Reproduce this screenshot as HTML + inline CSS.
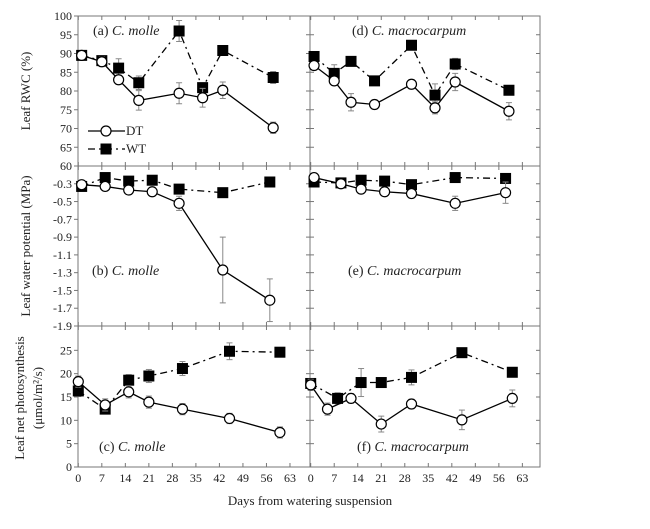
<!DOCTYPE html>
<html><head><meta charset="utf-8"><style>
html,body{margin:0;padding:0;background:#fff;}
svg{display:block;font-family:"Liberation Serif",serif;}
</style></head><body>
<svg id="chart" width="650" height="529" viewBox="0 0 650 529" xmlns="http://www.w3.org/2000/svg"></svg>
<script>
// ---- data ----
const rwcMolleDays=[1,7,12,18,30,37,43,58];
const rwcMolleDT=[89.5,87.8,83,77.5,79.4,78.2,80.2,70.2];
const rwcMolleWT=[89.5,88.1,86.1,82.2,96,80.9,90.8,83.6];
const rwcMolleDTerr=[1,1.3,1.2,2.6,2.8,2.5,2.2,1.5];
const rwcMolleWTerr=[0.8,1,2.5,1.8,2.8,1.2,0.8,1.6];
const rwcMacroDays=[1,7,12,19,30,37,43,59];
const rwcMacroDT=[86.8,82.7,77,76.4,81.8,75.5,82.4,74.6];
const rwcMacroWT=[89.2,84.7,87.9,82.7,92.2,78.9,87.2,80.2];
const rwcMacroDTerr=[0.8,1,2.3,1.2,1.2,1.6,2.3,2.3];
const rwcMacroWTerr=[0.6,2.3,0.5,1.2,0.5,3,1.5,0.7];
const lwpMolleDays=[1,8,15,22,30,43,57];
const lwpMolleDT=[-0.31,-0.33,-0.37,-0.39,-0.52,-1.27,-1.61];
const lwpMolleWT=[-0.33,-0.23,-0.27,-0.26,-0.36,-0.40,-0.28];
const lwpMolleDTerr=[0.02,0.03,0.05,0.03,0.08,0.37,0.24];
const lwpMacroDays=[1,9,15,22,30,43,58];
const lwpMacroDT=[-0.23,-0.30,-0.36,-0.39,-0.41,-0.52,-0.40];
const lwpMacroWT=[-0.28,-0.29,-0.26,-0.27,-0.31,-0.23,-0.24];
const lwpMacroDTerr=[0.02,0.03,0.03,0.03,0.05,0.08,0.12];
const psnMolleDTDays=[0,8,15,21,31,45,60];
const psnMolleDT=[18.3,13.3,16.1,13.9,12.4,10.4,7.4];
const psnMolleWTDays=[0,8,15,21,31,45,60];
const psnMolleWT=[16.3,12.4,18.6,19.5,21.1,24.8,24.6];
const psnMolleDTerr=[1.2,1.3,1.3,1.3,1.2,1.1,1.2];
const psnMolleWTerr=[1.2,1,1.2,1.4,1.5,1.8,0.4];
const psnMacroDTDays=[0,5,12,21,30,45,60];
const psnMacroDT=[17.6,12.4,14.7,9.2,13.5,10.1,14.7];
const psnMacroWTDays=[0,8,15,21,30,45,60];
const psnMacroWT=[17.9,14.7,18.1,18.1,19.2,24.5,20.3];
const psnMacroDTerr=[1.2,1.3,1,1.7,1,2.1,1.8];
const psnMacroWTerr=[1,1.2,3,0.4,1.6,0.5,1];
const xTickLabels=[0,7,14,21,28,35,42,49,56,63];
const rwcTicks=[60,65,70,75,80,85,90,95,100];
const lwpTicks=[-0.3,-0.5,-0.7,-0.9,-1.1,-1.3,-1.5,-1.7,-1.9];
const psnTicks=[0,5,10,15,20,25];

const NS="http://www.w3.org/2000/svg";
const svg=document.getElementById('chart');
function mk(tag,attrs,parent){const e=document.createElementNS(NS,tag);for(const k in attrs)e.setAttribute(k,attrs[k]);(parent||svg).appendChild(e);return e;}

const L0=78.3, R0=310.7, PX=3.36;
const xLeft=d=>L0+d*PX, xRight=d=>R0+d*PX;
const yRwc=v=>16+(100-v)*(150/40);
const yLwp=v=>166+(-0.1-v)*(160/1.8);
const yPsn=v=>467-v*(140/30);

const frame=mk('g',{});


[[78,16,232,150],[310,16,230,150],[78,166,232,160],[310,166,230,160],[78,326,232,141],[310,326,230,141]].forEach(r=>{
 mk('rect',{x:r[0],y:r[1],width:r[2],height:r[3],fill:'none',stroke:'#777','stroke-width':1},frame);
});
const xt=mk('g',{});


[xLeft,xRight].forEach(fx=>{
 xTickLabels.forEach(t=>{
  const x=fx(t);
  [16,166,326].forEach(b=>{mk('line',{x1:x,x2:x,y1:b,y2:b+4,stroke:'#777'},xt);});
  [166,326,467].forEach(b=>{mk('line',{x1:x,x2:x,y1:b,y2:b-4,stroke:'#777'},xt);});
  const tx=mk('text',{x:x,y:482,'font-size':12,'text-anchor':'middle',fill:'#222'},xt);
  tx.textContent=t;
  
  
 });
});
function yTicks(ticks,fy,fmt){
 const g=mk('g',{});
 
 
 ticks.forEach(t=>{
  const y=fy(t);
  mk('line',{x1:74,x2:78,y1:y,y2:y,stroke:'#777'},g);
  mk('line',{x1:306,x2:314,y1:y,y2:y,stroke:'#777'},g);
  mk('line',{x1:536,x2:540,y1:y,y2:y,stroke:'#777'},g);
  const tx=mk('text',{x:72,y:y+4,'font-size':12,'text-anchor':'end',fill:'#222'},g);
  tx.textContent=fmt(t);
  
  
 });
}
yTicks(rwcTicks,yRwc,t=>t);
yTicks(lwpTicks,yLwp,t=>t.toFixed(1));
yTicks(psnTicks,yPsn,t=>t);

function series(days,vals,errs,fx,fy,filled,name){
 const g=mk('g',{});
 
 
 const pts=days.map((d,i)=>[fx(d),fy(vals[i])]);
 const pl=mk('polyline',{points:pts.map(p=>p.join(',')).join(' '),fill:'none',stroke:'#000','stroke-width':1.3,'stroke-dasharray':filled?'7,4,2,4':'none'},g);
 
 
 pts.forEach((p,i)=>{
  if(errs){const e=errs[i];const y1=fy(vals[i]+e),y2=fy(vals[i]-e);
   mk('line',{x1:p[0],x2:p[0],y1:y1,y2:y2,stroke:'#888'},g);
   mk('line',{x1:p[0]-3,x2:p[0]+3,y1:y1,y2:y1,stroke:'#888'},g);
   mk('line',{x1:p[0]-3,x2:p[0]+3,y1:y2,y2:y2,stroke:'#888'},g);}
  let m;
  if(filled)m=mk('rect',{x:p[0]-5.5,y:p[1]-5.5,width:11,height:11,fill:'#000'},g);
  else m=mk('circle',{cx:p[0],cy:p[1],r:5,fill:'#fff',stroke:'#000','stroke-width':1.2},g);
  
  
 });
}
series(rwcMolleDays,rwcMolleWT,rwcMolleWTerr,xLeft,yRwc,true,'rwc-molle-wt');
series(rwcMolleDays,rwcMolleDT,rwcMolleDTerr,xLeft,yRwc,false,'rwc-molle-dt');
series(rwcMacroDays,rwcMacroWT,rwcMacroWTerr,xRight,yRwc,true,'rwc-macro-wt');
series(rwcMacroDays,rwcMacroDT,rwcMacroDTerr,xRight,yRwc,false,'rwc-macro-dt');
series(lwpMolleDays,lwpMolleWT,null,xLeft,yLwp,true,'lwp-molle-wt');
series(lwpMolleDays,lwpMolleDT,lwpMolleDTerr,xLeft,yLwp,false,'lwp-molle-dt');
series(lwpMacroDays,lwpMacroWT,null,xRight,yLwp,true,'lwp-macro-wt');
series(lwpMacroDays,lwpMacroDT,lwpMacroDTerr,xRight,yLwp,false,'lwp-macro-dt');
series(psnMolleWTDays,psnMolleWT,psnMolleWTerr,xLeft,yPsn,true,'psn-molle-wt');
series(psnMolleDTDays,psnMolleDT,psnMolleDTerr,xLeft,yPsn,false,'psn-molle-dt');
series(psnMacroWTDays,psnMacroWT,psnMacroWTerr,xRight,yPsn,true,'psn-macro-wt');
series(psnMacroDTDays,psnMacroDT,psnMacroDTerr,xRight,yPsn,false,'psn-macro-dt');
</script>
<svg style="position:absolute;left:0;top:0" width="650" height="529">
 <g font-family="Liberation Serif, serif" font-size="14" fill="#222">
  <text x="93" y="35">(a) <tspan font-style="italic">C. molle</tspan></text>
  <text x="352" y="35">(d) <tspan font-style="italic">C. macrocarpum</tspan></text>
  <text x="92" y="275">(b) <tspan font-style="italic">C. molle</tspan></text>
  <text x="348" y="275">(e) <tspan font-style="italic">C. macrocarpum</tspan></text>
  <text x="99" y="451">(c) <tspan font-style="italic">C. molle</tspan></text>
  <text x="357" y="451">(f) <tspan font-style="italic">C. macrocarpum</tspan></text>
 </g>
 <g font-family="Liberation Serif, serif" font-size="13" fill="#222">
  <line x1="88" x2="125" y1="131" y2="131" stroke="#000" stroke-width="1.3"/>
  <circle cx="106" cy="131" r="5" fill="#fff" stroke="#000" stroke-width="1.2"/>
  <text x="126" y="135">DT</text>
  <line x1="88" x2="125" y1="149" y2="149" stroke="#000" stroke-width="1.3" stroke-dasharray="7,4,2,4"/>
  <rect x="100.5" y="143.5" width="11" height="11" fill="#000"/>
  <text x="126" y="153">WT</text>
 </g>
 <g font-family="Liberation Serif, serif" font-size="13" fill="#222">
  <text transform="translate(30,91) rotate(-90)" text-anchor="middle">Leaf RWC (%)</text>
  <text transform="translate(30,246) rotate(-90)" text-anchor="middle">Leaf water potential (MPa)</text>
  <text transform="translate(24,398) rotate(-90)" text-anchor="middle">Leaf net photosynthesis</text>
  <text transform="translate(42,398) rotate(-90)" text-anchor="middle">(μmol/m²/s)</text>
  <text x="310" y="505" text-anchor="middle">Days from watering suspension</text>
 </g>
</svg>
</body></html>
